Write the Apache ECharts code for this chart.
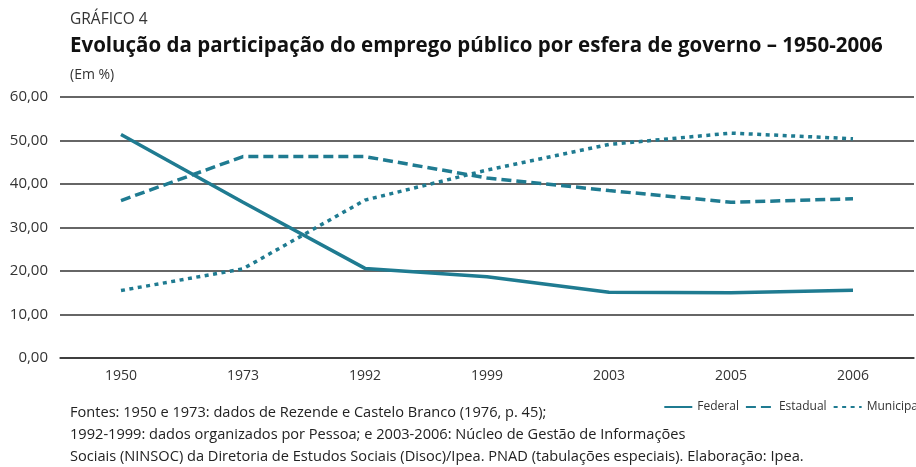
<!DOCTYPE html>
<html>
<head>
<meta charset="utf-8">
<script src="https://cdn.jsdelivr.net/npm/echarts@6/dist/echarts.min.js"></script>
<style>
  html, body { margin: 0; padding: 0; background: #fff; }
  #chart { width: 916px; height: 467px; }
</style>
</head>
<body>
<div id="chart"></div>
<script>
var anos = ["1950", "1973", "1992", "1999", "2003", "2005", "2006"];
var federal = [51.4, 35.8, 20.6, 18.7, 15.1, 15.0, 15.6];
var estadual = [36.2, 46.3, 46.3, 41.4, 38.5, 35.8, 36.6];
var municipal = [15.5, 20.5, 36.3, 43.2, 49.1, 51.7, 50.4];
var yTicks = [0, 10, 20, 30, 40, 50, 60];

var cor = "#1f7b91";
var fonte = "'Open Sans', 'Noto Sans', sans-serif";

var myChart = echarts.init(document.getElementById("chart"), null, { renderer: "canvas" });

var option = {
  animation: false,
  textStyle: { fontFamily: fonte },
  title: [
    {
      text: "GRÁFICO 4",
      left: 65, top: 7,
      textStyle: { fontSize: 15.5, fontWeight: "normal", color: "#333", fontFamily: fonte }
    },
    {
      text: "Evolução da participação do emprego público por esfera de governo – 1950-2006",
      left: 65, top: 31,
      textStyle: { fontSize: 20.5, fontWeight: "bold", color: "#111", fontFamily: fonte }
    },
    {
      text: "(Em %)",
      left: 65, top: 63,
      textStyle: { fontSize: 14, fontWeight: "normal", color: "#333", fontFamily: fonte }
    },
    {
      text: "Fontes: 1950 e 1973: dados de Rezende e Castelo Branco (1976, p. 45);\n1992-1999: dados organizados por Pessoa; e 2003-2006: Núcleo de Gestão de Informações\nSociais (NINSOC) da Diretoria de Estudos Sociais (Disoc)/Ipea. PNAD (tabulações especiais). Elaboração: Ipea.",
      left: 65, top: 397,
      textStyle: { fontSize: 14.6, fontWeight: "normal", color: "#222", lineHeight: 22, fontFamily: fonte }
    }
  ],
  legend: {
    right: -10, top: 396,
    itemWidth: 28, itemHeight: 8, itemGap: 6,
    itemStyle: { opacity: 0 },
    textStyle: { fontSize: 12, color: "#333", fontFamily: fonte },
    data: ["Federal", "Estadual", "Municipal"]
  },
  grid: { left: 60, right: 2, top: 97, bottom: 109, containLabel: false },
  xAxis: {
    type: "category",
    data: anos,
    boundaryGap: true,
    axisLine: { lineStyle: { color: "#333", width: 1.5 } },
    axisTick: { inside: true, length: 10, lineStyle: { color: "#333", width: 1.5 } },
    axisLabel: { fontSize: 14, color: "#333", margin: 11 }
  },
  yAxis: {
    type: "value",
    min: yTicks[0], max: yTicks[yTicks.length - 1], interval: 10,
    axisLine: { show: false },
    axisTick: { show: false },
    axisLabel: {
      fontSize: 15, color: "#333", margin: 12,
      formatter: function (v) { return v.toFixed(2).replace(".", ","); }
    },
    splitLine: { lineStyle: { color: "#333", width: 1.5 } }
  },
  series: [
    {
      name: "Federal", type: "line", data: federal,
      symbol: "none", itemStyle: { color: cor },
      lineStyle: { color: cor, width: 3.5, type: "solid" }
    },
    {
      name: "Estadual", type: "line", data: estadual,
      symbol: "none", itemStyle: { color: cor },
      lineStyle: { color: cor, width: 3.5, type: [10, 5] }
    },
    {
      name: "Municipal", type: "line", data: municipal,
      symbol: "none", itemStyle: { color: cor },
      lineStyle: { color: cor, width: 3.5, type: [4, 4.5] }
    }
  ]
};
myChart.setOption(option);
</script>
</body>
</html>
